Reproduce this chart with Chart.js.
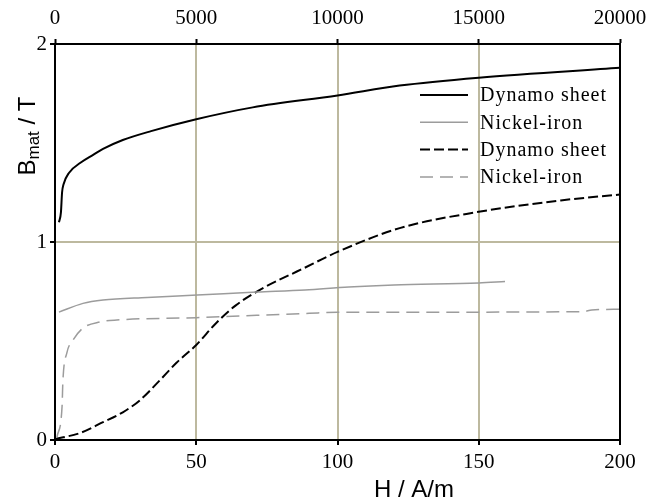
<!DOCTYPE html>
<html>
<head>
<meta charset="utf-8">
<script src="https://cdn.jsdelivr.net/npm/chart.js@4.4.0/dist/chart.umd.min.js"></script>
<style>
    html, body { margin: 0; padding: 0; background: #fff; }
    canvas { display: block; }
</style>
</head>
<body>
<canvas id="bh-chart" width="661" height="503"></canvas>
<script>
// 축 눈금
const bottomTicks = [0, 50, 100, 150, 200];
const topTicks = [0, 5000, 10000, 15000, 20000];
const yTicks = [0, 1, 2];

// 실선: 위쪽 H 축 (0 - 20000 A/m)
const dynamoHighH = [140, 210, 250, 300, 500, 900, 1350, 1700, 2400, 3400, 5000, 7000, 10000, 12200, 15000, 20000];
const dynamoHighB = [1.10, 1.15, 1.25, 1.29, 1.35, 1.40, 1.44, 1.47, 1.515, 1.56, 1.62, 1.68, 1.74, 1.79, 1.83, 1.88];
const nickelHighH = [140, 990, 1700, 3260, 5030, 7150, 8850, 10400, 12000, 15000, 15930];
const nickelHighB = [0.646, 0.69, 0.707, 0.72, 0.732, 0.747, 0.758, 0.773, 0.783, 0.793, 0.80];

// 점선: 아래쪽 H 축 (0 - 200 A/m)
const dynamoLowH = [0, 8.8, 17, 24, 30, 37, 43, 50, 57, 64, 74, 87, 100, 122, 149, 179, 200];
const dynamoLowB = [0.005, 0.035, 0.09, 0.14, 0.20, 0.30, 0.39, 0.48, 0.59, 0.68, 0.77, 0.86, 0.95, 1.07, 1.15, 1.21, 1.24];
const nickelLowH = [0.7, 2.5, 2.8, 4.2, 6.4, 9.9, 15.9, 21.9, 50, 90, 100, 187, 190, 200];
const nickelLowB = [0.015, 0.17, 0.30, 0.44, 0.505, 0.565, 0.596, 0.606, 0.618, 0.64, 0.645, 0.648, 0.657, 0.66];

const seriesLabels = ['Dynamo sheet', 'Nickel-iron', 'Dynamo sheet', 'Nickel-iron'];
const xTitle = 'H / A/m';

const GRID = '#bdb99f';
const GRAY = '#9c9c9c';
const SERIF = '"Liberation Serif", "Times New Roman", serif';
const SANS = '"Liberation Sans", Arial, sans-serif';

function toPoints(xs, ys) {
    return xs.map((x, i) => ({ x: x, y: ys[i] }));
}

// 그리드: 가장자리 선은 그리지 않음
function innerGrid(min, max) {
    return ctx => (ctx.tick && (ctx.tick.value === min || ctx.tick.value === max)) ? 'rgba(0,0,0,0)' : GRID;
}

// 틀, 범례, 축 제목
const framePlugin = {
    id: 'frame',
    afterDraw(chart) {
        const { ctx, chartArea: a } = chart;
        ctx.save();
        ctx.strokeStyle = '#000';
        ctx.lineWidth = 2;
        ctx.strokeRect(a.left, a.top, a.right - a.left, a.bottom - a.top);

        // 범례
        ctx.font = '20px ' + SERIF;
        ctx.letterSpacing = '1px';
        ctx.textBaseline = 'middle';
        ctx.fillStyle = '#000';
        chart.data.datasets.forEach((ds, i) => {
            const y = a.top + 51 + i * 27.3;
            ctx.beginPath();
            ctx.strokeStyle = ds.borderColor;
            ctx.lineWidth = ds.borderWidth;
            ctx.setLineDash(ds.borderDash || []);
            ctx.moveTo(a.left + 365, y);
            ctx.lineTo(a.left + 413, y);
            ctx.stroke();
            ctx.fillText(ds.label, a.left + 425, y + 1);
        });
        ctx.setLineDash([]);
        ctx.letterSpacing = '0px';

        // x축 제목
        ctx.font = '24px ' + SANS;
        ctx.textAlign = 'center';
        ctx.fillText(xTitle, 414, 490);

        // y축 제목 (아래첨자 포함)
        ctx.translate(28, 136);
        ctx.rotate(-Math.PI / 2);
        const big = '24px ' + SANS, small = '17px ' + SANS;
        ctx.font = big; const wB = ctx.measureText('B').width;
        ctx.font = small; const wS = ctx.measureText('mat').width;
        ctx.font = big; const wT = ctx.measureText(' / T').width;
        let x = -(wB + wS + wT) / 2;
        ctx.textAlign = 'left';
        ctx.font = big; ctx.fillText('B', x, 0); x += wB;
        ctx.font = small; ctx.fillText('mat', x, 6); x += wS;
        ctx.font = big; ctx.fillText(' / T', x, 0);
        ctx.restore();
    }
};

const tickFont = { family: SERIF, size: 21 };

new Chart(document.getElementById('bh-chart'), {
    type: 'line',
    data: {
        datasets: [
            {
                label: seriesLabels[0],
                data: toPoints(dynamoHighH, dynamoHighB),
                xAxisID: 'x2',
                borderColor: '#000',
                borderWidth: 2,
                borderDash: [],
                pointRadius: 0,
                cubicInterpolationMode: 'monotone'
            },
            {
                label: seriesLabels[1],
                data: toPoints(nickelHighH, nickelHighB),
                xAxisID: 'x2',
                borderColor: GRAY,
                borderWidth: 1.5,
                borderDash: [],
                pointRadius: 0,
                cubicInterpolationMode: 'monotone'
            },
            {
                label: seriesLabels[2],
                data: toPoints(dynamoLowH, dynamoLowB),
                xAxisID: 'x',
                borderColor: '#000',
                borderWidth: 2,
                borderDash: [10, 4],
                pointRadius: 0,
                cubicInterpolationMode: 'monotone'
            },
            {
                label: seriesLabels[3],
                data: toPoints(nickelLowH, nickelLowB),
                xAxisID: 'x',
                borderColor: GRAY,
                borderWidth: 1.5,
                borderDash: [13, 7],
                pointRadius: 0,
                cubicInterpolationMode: 'monotone'
            }
        ]
    },
    options: {
        responsive: false,
        animation: false,
        layout: { padding: { left: 0, right: 41, top: 0, bottom: 0 } },
        plugins: {
            legend: { display: false },
            tooltip: { enabled: false }
        },
        scales: {
            x: {
                type: 'linear',
                position: 'bottom',
                min: 0,
                max: 200,
                afterBuildTicks: s => { s.ticks = bottomTicks.map(v => ({ value: v })); },
                afterFit: s => { s.height = 63; },
                ticks: { font: tickFont, color: '#000', padding: 5, maxRotation: 0, callback: v => String(v) },
                grid: { color: innerGrid(0, 200), lineWidth: 2, tickColor: '#000', tickLength: 5, tickWidth: 2 },
                border: { color: '#000', width: 2 }
            },
            x2: {
                type: 'linear',
                position: 'top',
                min: 0,
                max: 20000,
                afterBuildTicks: s => { s.ticks = topTicks.map(v => ({ value: v })); },
                afterFit: s => { s.height = 44; },
                ticks: { font: tickFont, color: '#000', padding: 8, maxRotation: 0, callback: v => String(v) },
                grid: { drawOnChartArea: false, tickColor: '#000', tickLength: 5, tickWidth: 2 },
                border: { color: '#000', width: 2 }
            },
            y: {
                type: 'linear',
                min: 0,
                max: 2,
                afterBuildTicks: s => { s.ticks = yTicks.map(v => ({ value: v })); },
                afterFit: s => { s.width = 55; },
                ticks: { font: tickFont, color: '#000', padding: 3, callback: v => String(v) },
                grid: { color: innerGrid(0, 2), lineWidth: 2, tickColor: '#000', tickLength: 5, tickWidth: 2 },
                border: { color: '#000', width: 2 }
            }
        }
    },
    plugins: [framePlugin]
});
</script>
</body>
</html>
